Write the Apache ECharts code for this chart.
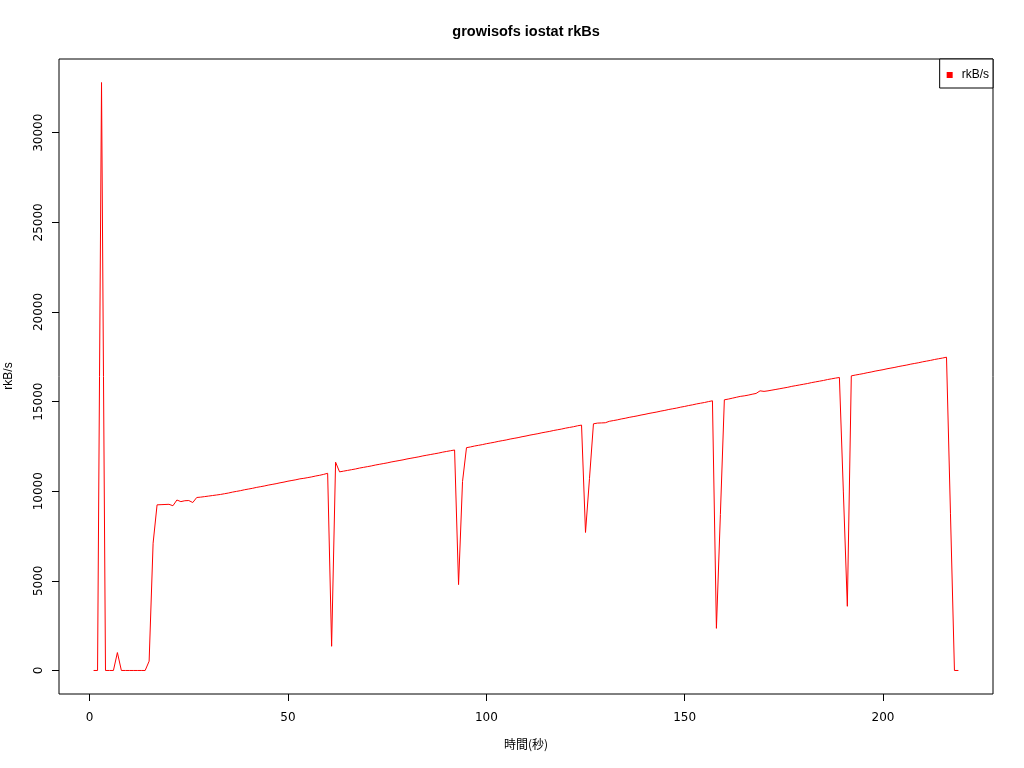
<!DOCTYPE html>
<html>
<head>
<meta charset="utf-8">
<script src="https://cdn.jsdelivr.net/npm/echarts@6/dist/echarts.min.js"></script>
<style>
  html, body { margin: 0; padding: 0; background: #fff; }
  #chart { width: 1024px; height: 768px; }
</style>
</head>
<body>
<div id="chart"></div>
<script>
// ---- data ----
const chartTitle = 'growisofs iostat rkBs';
const xTitle = '時間(秒)';
const yTitle = 'rkB/s';
const seriesName = 'rkB/s';
const firstSecond = 1;               // first sample is at t = 1 s, one sample per second
const xTicks = [0, 50, 100, 150, 200];
const yTicks = [0, 5000, 10000, 15000, 20000, 25000, 30000];

// rkB/s, samples 1..219
const rkBs = [
  0, 0, 32800, 0, 0, 0, 1000, 0, 0, 0,                                   // 1-10
  0, 0, 0, 0, 520, 7100, 9240, 9250, 9260, 9270,                          // 11-20
  9190, 9510, 9420, 9470, 9480, 9370, 9650, 9670, 9700, 9730,             // 21-30
  9760, 9790, 9820, 9860, 9900, 9950, 9990, 10030, 10080, 10120,          // 31-40
  10160, 10210, 10250, 10290, 10340, 10380, 10420, 10470, 10510, 10560,   // 41-50
  10600, 10640, 10690, 10720, 10760, 10800, 10850, 10890, 10940, 11000,   // 51-60
  1350, 11620, 11080, 11120, 11160, 11200, 11240, 11290, 11330, 11370,    // 61-70
  11410, 11460, 11500, 11540, 11580, 11630, 11670, 11710, 11750, 11800,   // 71-80
  11840, 11880, 11920, 11970, 12010, 12050, 12090, 12130, 12180, 12220,   // 81-90
  12260, 12300, 4790, 10540, 12430, 12470, 12520, 12560, 12600, 12650,    // 91-100
  12690, 12730, 12780, 12820, 12860, 12910, 12950, 12990, 13040, 13080,   // 101-110
  13130, 13170, 13210, 13260, 13300, 13340, 13390, 13430, 13470, 13520,   // 111-120
  13560, 13600, 13650, 13690, 7700, 10700, 13760, 13800, 13810, 13820,    // 121-130
  13900, 13940, 13980, 14030, 14070, 14120, 14160, 14200, 14250, 14290,   // 131-140
  14340, 14380, 14420, 14470, 14510, 14560, 14600, 14640, 14690, 14730,   // 141-150
  14780, 14820, 14870, 14910, 14950, 15000, 15045, 2350, 8700, 15100,     // 151-160
  15140, 15190, 15240, 15290, 15320, 15360, 15410, 15455, 15600, 15570,   // 161-170
  15600, 15640, 15680, 15720, 15760, 15800, 15850, 15890, 15930, 15970,   // 171-180
  16010, 16060, 16100, 16140, 16180, 16230, 16270, 16310, 16345, 9960,    // 181-190
  3580, 16435, 16480, 16520, 16560, 16610, 16650, 16700, 16740, 16780,    // 191-200
  16830, 16870, 16910, 16960, 17000, 17040, 17090, 17130, 17170, 17220,   // 201-210
  17260, 17300, 17350, 17390, 17430, 17476, 8740, 0, 0                    // 211-219
];

// ---- build chart ----
const points = rkBs.map((v, i) => [firstSecond + i, v]);

// R-style axis range: data range extended by 4% on each side
const xs = points.map(p => p[0]);
const xMinD = Math.min(...xs), xMaxD = Math.max(...xs);
const yMinD = Math.min(...rkBs), yMaxD = Math.max(...rkBs);
const xPad = (xMaxD - xMinD) * 0.04, yPad = (yMaxD - yMinD) * 0.04;

const chart = echarts.init(document.getElementById('chart'), null, { renderer: 'canvas' });
const tickFont = 'DejaVu Sans';
chart.setOption({
  animation: false,
  backgroundColor: '#ffffff',
  graphic: [
    { type: 'text', x: 526, y: 32,
      style: { text: chartTitle, fontFamily: 'Liberation Sans', fontWeight: 'bold', fontSize: 14.5, fill: '#000',
               align: 'center', verticalAlign: 'middle' } },
    { type: 'text', x: 526, y: 738,
      style: { text: xTitle, fontFamily: 'Noto Sans CJK JP', fontSize: 12, fill: '#000', align: 'center', verticalAlign: 'top' } },
    { type: 'text', x: 3, y: 376, rotation: Math.PI / 2,
      style: { text: yTitle, fontFamily: 'Liberation Sans', fontSize: 12, fill: '#000', align: 'center', verticalAlign: 'top' } }
  ],
  legend: {
    data: [seriesName],
    right: 31, top: 59,
    orient: 'vertical',
    backgroundColor: '#fff',
    borderColor: '#000', borderWidth: 1, borderRadius: 0,
    padding: [10, 4, 7, 7],
    itemWidth: 14, itemHeight: 6,
    icon: 'path://M0,0h10v10h-10z',
    textStyle: { fontFamily: 'Liberation Sans', fontSize: 12, color: '#000' }
  },
  grid: {
    left: 59, right: 31, top: 59, bottom: 74,
    show: true, borderColor: '#000', borderWidth: 1, backgroundColor: 'transparent',
    containLabel: false
  },
  xAxis: {
    type: 'value',
    position: 'bottom',
    min: xMinD - xPad, max: xMaxD + xPad,
    splitLine: { show: false },
    axisLine: { show: false, onZero: false },
    axisTick: { show: true, inside: false, length: 7, lineStyle: { color: '#000' }, customValues: xTicks },
    axisLabel: { customValues: xTicks, margin: 18, fontFamily: tickFont, fontSize: 12, color: '#000',
                 formatter: v => String(v) }
  },
  yAxis: {
    type: 'value',
    position: 'left',
    min: yMinD - yPad, max: yMaxD + yPad,
    splitLine: { show: false },
    axisLine: { show: false, onZero: false },
    axisTick: { show: true, inside: false, length: 7, lineStyle: { color: '#000' }, customValues: yTicks },
    axisLabel: { customValues: yTicks, rotate: 90, margin: 14, fontFamily: tickFont, fontSize: 12, color: '#000',
                 formatter: v => String(v) }
  },
  series: [{
    name: seriesName,
    type: 'line',
    data: points,
    showSymbol: false,
    symbol: 'none',
    smooth: false,
    itemStyle: { color: '#ff0000' },
    lineStyle: { color: '#ff0000', width: 1 }
  }]
});
</script>
</body>
</html>
